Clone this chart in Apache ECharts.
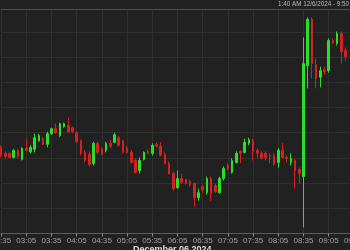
<!DOCTYPE html>
<html><head><meta charset="utf-8">
<script src="https://cdn.jsdelivr.net/npm/echarts@6/dist/echarts.min.js"></script>
<style>html,body{margin:0;padding:0;background:#202120;}#c{width:350px;height:250px;}</style>
</head><body><div id="c"></div>
<script>
const categories = ["02:35","02:40","02:45","02:50","02:55","03:00","03:05","03:10","03:15","03:20","03:25","03:30","03:35","03:40","03:45","03:50","03:55","04:00","04:05","04:10","04:15","04:20","04:25","04:30","04:35","04:40","04:45","04:50","04:55","05:00","05:05","05:10","05:15","05:20","05:25","05:30","05:35","05:40","05:45","05:50","05:55","06:00","06:05","06:10","06:15","06:20","06:25","06:30","06:35","06:40","06:45","06:50","06:55","07:00","07:05","07:10","07:15","07:20","07:25","07:30","07:35","07:40","07:45","07:50","07:55","08:00","08:05","08:10","08:15","08:20","08:25","08:30","08:35","08:40","08:45","08:50","08:55","09:00","09:05","09:10","09:15","09:20","09:25","09:30","09:35"];

const opens = [1.05571,1.05559,1.05559,1.05551,1.05565,1.05547,1.05569,1.05562,1.05567,1.05584,
1.05588,1.05577,1.05598,1.05608,1.05594,1.05612,1.05614,1.05610,1.05600,1.05584,
1.05561,1.05557,1.05539,1.05579,1.05567,1.05565,1.05579,1.05581,1.05590,1.05584,
1.05569,1.05561,1.05545,1.05525,1.05547,1.05563,1.05559,1.05577,1.05573,1.05557,
1.05539,1.05519,1.05491,1.05509,1.05507,1.05503,1.05499,1.05471,1.05493,1.05481,
1.05509,1.05495,1.05481,1.05509,1.05535,1.05521,1.05541,1.05563,1.05561,1.05579,
1.05584,1.05565,1.05559,1.05559,1.05555,1.05555,1.05541,1.05565,1.05551,1.05541,
1.05545,1.05527,1.05513,1.05733,1.05825,1.05735,1.05710,1.05725,1.05723,1.05783,
1.05777,1.05797,1.05763];
const closes = [1.05555,1.05553,1.05551,1.05565,1.05553,1.05569,1.05565,1.05571,1.05590,1.05594,
1.05577,1.05598,1.05608,1.05600,1.05618,1.05618,1.05602,1.05602,1.05582,1.05559,
1.05545,1.05537,1.05579,1.05561,1.05557,1.05579,1.05573,1.05596,1.05575,1.05561,
1.05561,1.05541,1.05521,1.05545,1.05561,1.05559,1.05575,1.05573,1.05555,1.05539,
1.05519,1.05489,1.05509,1.05501,1.05499,1.05497,1.05471,1.05481,1.05487,1.05509,
1.05479,1.05483,1.05509,1.05529,1.05529,1.05545,1.05559,1.05559,1.05581,1.05586,
1.05563,1.05559,1.05549,1.05551,1.05553,1.05537,1.05565,1.05551,1.05549,1.05549,
1.05525,1.05519,1.05737,1.05825,1.05737,1.05708,1.05723,1.05721,1.05783,1.05779,
1.05797,1.05761,1.05751];
const lows = [1.05551,1.05549,1.05549,1.05549,1.05549,1.05545,1.05563,1.05559,1.05561,1.05582,
1.05575,1.05571,1.05596,1.05598,1.05592,1.05610,1.05600,1.05600,1.05581,1.05555,
1.05541,1.05533,1.05535,1.05557,1.05555,1.05561,1.05569,1.05579,1.05573,1.05559,
1.05559,1.05539,1.05519,1.05519,1.05545,1.05557,1.05555,1.05571,1.05553,1.05537,
1.05517,1.05485,1.05489,1.05499,1.05497,1.05493,1.05452,1.05465,1.05481,1.05477,
1.05465,1.05481,1.05479,1.05505,1.05525,1.05519,1.05539,1.05539,1.05559,1.05575,
1.05545,1.05549,1.05547,1.05545,1.05539,1.05535,1.05531,1.05549,1.05541,1.05535,
1.05489,1.05499,1.05412,1.05688,1.05708,1.05688,1.05690,1.05715,1.05719,1.05775,
1.05773,1.05737,1.05743];
const highs = [1.05575,1.05563,1.05561,1.05567,1.05567,1.05571,1.05588,1.05575,1.05598,1.05598,
1.05592,1.05602,1.05610,1.05618,1.05620,1.05620,1.05630,1.05612,1.05604,1.05586,
1.05565,1.05563,1.05582,1.05582,1.05571,1.05582,1.05586,1.05600,1.05594,1.05586,
1.05573,1.05565,1.05549,1.05551,1.05563,1.05567,1.05579,1.05581,1.05581,1.05561,
1.05543,1.05523,1.05525,1.05519,1.05509,1.05507,1.05501,1.05489,1.05497,1.05513,
1.05513,1.05499,1.05513,1.05533,1.05539,1.05549,1.05563,1.05565,1.05588,1.05590,
1.05588,1.05569,1.05563,1.05563,1.05559,1.05559,1.05569,1.05579,1.05555,1.05559,
1.05549,1.05531,1.05789,1.05829,1.05829,1.05747,1.05731,1.05731,1.05787,1.05787,
1.05801,1.05801,1.05769];

const headerText = "1:40 AM 12/6/2024 - 9:50 AM";
const dateText = "December 06 2024";

const candleData = categories.map((c, i) => i < opens.length ? [opens[i], closes[i], lows[i], highs[i]] : '-');

const chart = echarts.init(document.getElementById('c'), null, {renderer: 'canvas'});
const gridColor = '#2e302e';
chart.setOption({
  backgroundColor: '#202120',
  animation: false,
  title: [
    {text: headerText, left: 278, top: 1.5, padding: 0, textStyle: {color: '#b8b8b8', fontSize: 6.3, fontWeight: 'normal', fontFamily: 'Liberation Sans'}},
    {text: dateText, left: 133, top: 245, padding: 0, textStyle: {color: '#dcdcdc', fontSize: 9, fontWeight: 'bold', fontFamily: 'Liberation Sans'}}
  ],
  grid: {left: 1.1, right: -3.9, top: 9.5, bottom: 16.5, containLabel: false, outerBoundsMode: 'none'},
  xAxis: [{
    type: 'category', data: categories, boundaryGap: false,
    axisLine: {onZero: false, lineStyle: {color: '#5c5c5c'}},
    axisTick: {interval: 5, length: 3, lineStyle: {color: '#8a8a8a'}},
    axisLabel: {interval: 5, color: '#a0a0a0', fontSize: 8, margin: 3, fontFamily: 'Liberation Sans', hideOverlap: false},
    splitLine: {show: true, interval: 5, lineStyle: {color: gridColor}}
  }, {
    type: 'category', data: categories, boundaryGap: false, position: 'top', z: 5,
    axisLine: {onZero: false, lineStyle: {color: '#4e4e4e'}},
    axisTick: {show: false}, axisLabel: {show: false}, splitLine: {show: false}
  }],
  yAxis: {
    type: 'value', min: 1.0540, max: 1.0584444, interval: 0.0005,
    axisLine: {show: false}, axisTick: {show: false}, axisLabel: {show: false},
    splitLine: {show: true, lineStyle: {color: gridColor}}
  },
  series: [{
    type: 'candlestick', data: candleData, barWidth: 2, clip: false,
    itemStyle: {color: '#2ade2a', color0: '#d42222', borderColor: '#2ade2a', borderColor0: '#d42222', borderWidth: 1}
  }]
});
</script></body></html>
